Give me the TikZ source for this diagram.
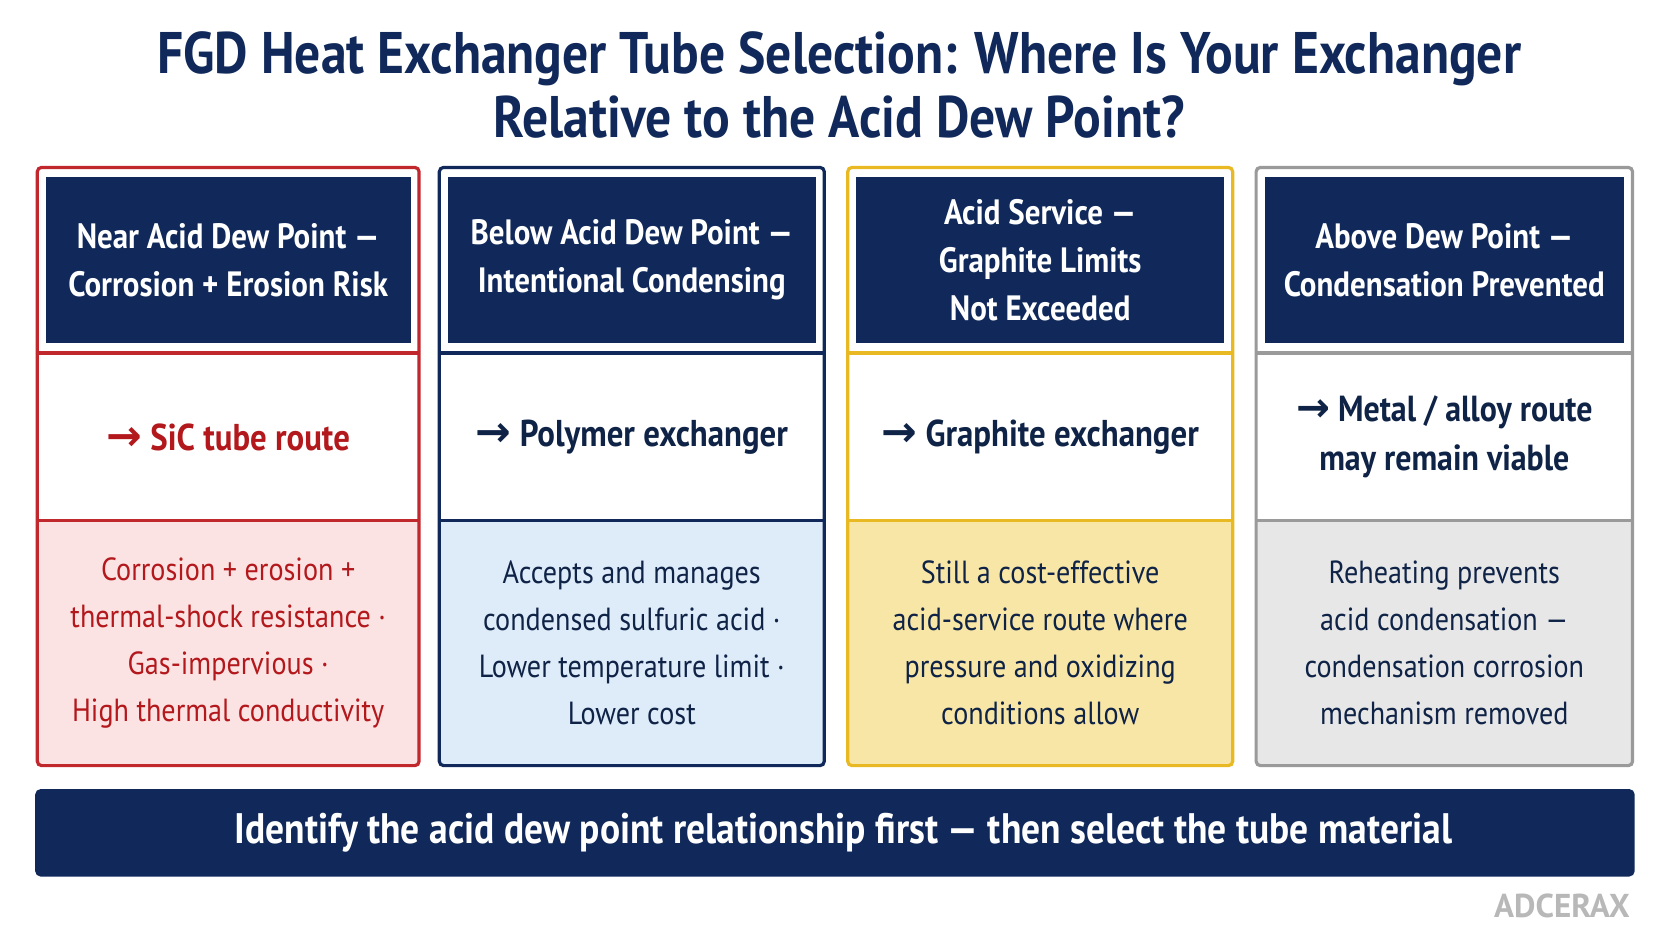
\documentclass[tikz,border=0pt]{standalone}
\usepackage{fontspec}
\setmainfont{PT Sans}[FakeStretch=0.88]
\newfontfamily\arr{DejaVu Sans}
\newfontfamily\logofont{PT Sans}
\definecolor{navy}{HTML}{10295A}
\definecolor{cred}{HTML}{C0282D}
\definecolor{cgold}{HTML}{E8B923}
\definecolor{cgray}{HTML}{9A9A9A}
\definecolor{tred}{HTML}{FCE3E3}
\definecolor{tblue}{HTML}{DEEBF8}
\definecolor{tgold}{HTML}{F8E6A6}
\definecolor{tgray}{HTML}{E7E7E7}
\definecolor{tx}{HTML}{0F2347}
\definecolor{txr}{HTML}{B3181C}
\tikzset{
 hdr/.style={fill=navy,draw=none,text=white,font=\bfseries\fontsize{33}{45}\selectfont,align=center},
 mid/.style={font=\bfseries\fontsize{35}{40}\selectfont,align=center},
 low/.style={font=\fontsize{30}{44}\selectfont,align=center},
}
\begin{document}
\begin{tikzpicture}[x=1pt,y=-1pt]
\useasboundingbox (0,0) rectangle (1568,882);
\fill[white] (0,0) rectangle (1568,882);
\node[font=\bfseries\fontsize{55}{60}\selectfont,text=navy,align=center] (title) at (787,80) {FGD Heat Exchanger Tube Selection: Where Is Your Exchanger\\Relative to the Acid Dew Point?};
\foreach \xa/\xb/\c/\t/\tc/\n in {35/393/cred/tred/txr/a,412/773/navy/tblue/tx/b,795/1156/cgold/tgold/tx/c,1178/1531/cgray/tgray/tx/d}{
  \fill[\t] (\xa,488) rectangle (\xb,718);
  \draw[\c,line width=3pt,rounded corners=4pt] (\xa,157) rectangle (\xb,718);
  \draw[\c,line width=3pt] (\xa,331) -- (\xb,331);
  \draw[\c,line width=3pt] (\xa,488) -- (\xb,488);
  \fill[navy] (\xa+8,166) rectangle (\xb-8,322);
  \coordinate (h\n) at ({(\xa+\xb)/2},244);
  \coordinate (m\n) at ({(\xa+\xb)/2},410);
  \coordinate (l\n) at ({(\xa+\xb)/2},603);
}
\node[hdr] (ha1) at (ha) {Near Acid Dew Point —\\Corrosion + Erosion Risk};
\node[hdr] (hb1) at (hb) {Below Acid Dew Point —\\Intentional Condensing};
\node[hdr] (hc1) at (hc) {Acid Service —\\Graphite Limits\\Not Exceeded};
\node[hdr] (hd1) at (hd) {Above Dew Point —\\Condensation Prevented};
\node[mid,text=txr] (ma1) at (ma) {{\arr\bfseries\fontsize{40}{40}\selectfont →} SiC tube route};
\node[mid,text=tx] (mb1) at (mb) {{\arr\bfseries\fontsize{40}{40}\selectfont →} Polymer exchanger};
\node[mid,text=tx] (mc1) at (mc) {{\arr\bfseries\fontsize{40}{40}\selectfont →} Graphite exchanger};
\node[mid,text=tx,font=\bfseries\fontsize{34}{46}\selectfont] (md1) at (md) {{\arr\bfseries\fontsize{38}{40}\selectfont →} Metal / alloy route\\may remain viable};
\node[low,text=txr] (la1) at (la) {Corrosion + erosion +\\thermal-shock resistance ·\\Gas-impervious ·\\High thermal conductivity};
\node[low,text=tx] (lb1) at (lb) {Accepts and manages\\condensed sulfuric acid ·\\Lower temperature limit ·\\Lower cost};
\node[low,text=tx] (lc1) at (lc) {Still a cost-effective\\acid-service route where\\pressure and oxidizing\\conditions allow};
\node[low,text=tx] (ld1) at (ld) {Reheating prevents\\acid condensation —\\condensation corrosion\\mechanism removed};
\fill[navy,rounded corners=5pt] (33,740) rectangle (1533,822);
\node[text=white,font=\bfseries\fontsize{40}{44}\selectfont] (ban) at (791,781) {Identify the acid dew point relationship first — then select the tube material};
\node[text=cgray!70,font=\logofont\bfseries\fontsize{31}{34}\selectfont,anchor=east] (logo) at (1532,850) {ADCERAX};
\end{tikzpicture}
\end{document}
